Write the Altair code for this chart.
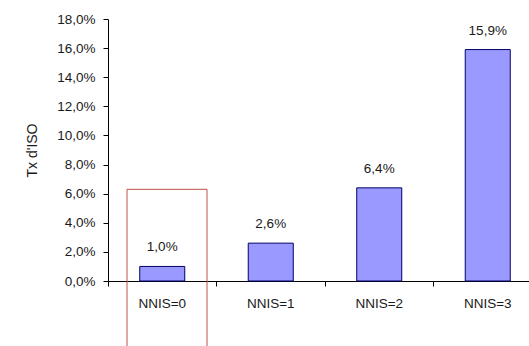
import altair as alt
import pandas as pd

categories = ["NNIS=0", "NNIS=1", "NNIS=2", "NNIS=3"]
rates = [0.010, 0.026, 0.064, 0.159]
y_ticks = [0.0, 0.02, 0.04, 0.06, 0.08, 0.10, 0.12, 0.14, 0.16, 0.18]

df = pd.DataFrame({"cat": categories, "rate": rates})

FONT = "Liberation Sans"
FS = 13.5
TEXT = "#1a1a1a"
comma_pct = "replace(format(datum.value, '.1%'), '.', ',')"

x_scale = alt.Scale(range=[0, 434], paddingInner=0, paddingOuter=0)
y_scale = alt.Scale(domain=[0, 0.18], nice=False)

x_axis = alt.Axis(
    title=None,
    labelAngle=0,
    labelFont=FONT,
    labelFontSize=FS,
    labelColor=TEXT,
    labelPadding=10,
    bandPosition=0,
    tickSize=5,
    tickColor="#000000",
    domainColor="#000000",
    grid=False,
)
y_axis = alt.Axis(
    title="Tx d'ISO",
    titleFont=FONT,
    titleFontSize=14,
    titleFontWeight="normal",
    titleColor=TEXT,
    titlePadding=17,
    values=y_ticks,
    labelExpr=comma_pct,
    labelOverlap=False,
    labelFont=FONT,
    labelFontSize=FS,
    labelColor=TEXT,
    labelPadding=8,
    tickSize=5,
    tickColor="#000000",
    domainColor="#000000",
    grid=False,
)

base = alt.Chart(df).encode(
    x=alt.X("cat:N", sort=categories, scale=x_scale, axis=x_axis),
    y=alt.Y("rate:Q", scale=y_scale, axis=y_axis),
)

bars = base.mark_bar(
    color="#9999FF", stroke="#000066", strokeWidth=1,
    width=alt.RelativeBandSize(0.415),
)

labels = base.mark_text(
    font=FONT, fontSize=FS, color=TEXT, baseline="alphabetic", dy=-15
).transform_calculate(
    txt="replace(format(datum.rate, '.1%'), '.', ',')"
).encode(text="txt:N")

# highlight frame around the lowest-risk group
frame = alt.Chart(pd.DataFrame({"rate": [0.063]})).mark_rect(
    fill=None, stroke="#C0504D", strokeWidth=1, clip=False
).encode(
    x=alt.value(19),
    x2=alt.value(99),
    y=alt.Y("rate:Q", scale=y_scale, axis=y_axis),
    y2=alt.value(335),
)

chart = (
    alt.layer(bars, labels, frame)
    .properties(
        width=421,
        height=262,
        autosize=alt.AutoSizeParams(type="none"),
        padding={"left": 108, "top": 19, "right": 0, "bottom": 65},
        background="white",
    )
    .configure_view(stroke=None)
)

chart.save("out.html", embed_options={"renderer": "svg", "actions": False})
